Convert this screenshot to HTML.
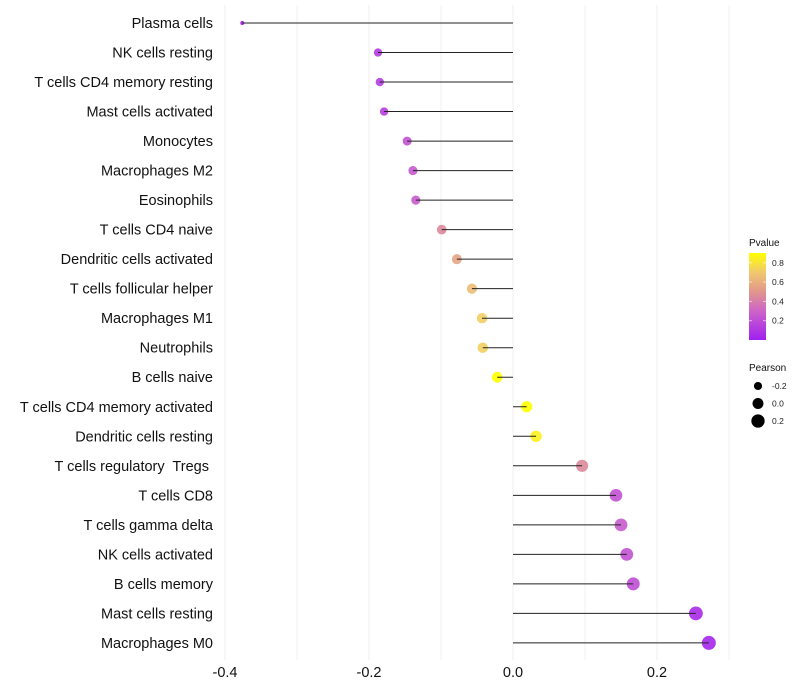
<!DOCTYPE html>
<html><head><meta charset="utf-8"><style>
body{margin:0;background:#fff;}
svg{display:block;font-family:"Liberation Sans",Arial,sans-serif;}
text{white-space:pre;}
</style></head><body>
<svg id="chart" width="800" height="700"></svg>
<script>
const categories=["Plasma cells","NK cells resting","T cells CD4 memory resting","Mast cells activated","Monocytes","Macrophages M2","Eosinophils","T cells CD4 naive","Dendritic cells activated","T cells follicular helper","Macrophages M1","Neutrophils","B cells naive","T cells CD4 memory activated","Dendritic cells resting","T cells regulatory  Tregs ","T cells CD8","T cells gamma delta","NK cells activated","B cells memory","Mast cells resting","Macrophages M0"];
const pearson=[-0.376,-0.1875,-0.185,-0.179,-0.147,-0.139,-0.135,-0.099,-0.078,-0.057,-0.043,-0.042,-0.022,0.019,0.032,0.096,0.143,0.15,0.158,0.167,0.254,0.272];
const pvalue=[0.0,0.12,0.13,0.14,0.22,0.25,0.26,0.45,0.55,0.66,0.72,0.73,0.9,0.9,0.85,0.45,0.22,0.26,0.22,0.2,0.05,0.03];
const xTicks=[-0.4,-0.2,0.0,0.2];
const xTickLabels=["-0.4","-0.2","0.0","0.2"];
const gridMinor=[-0.3,-0.1,0.1,0.3];
const cbTicks=[0.2,0.4,0.6,0.8];
const sizeLegend=[-0.2,0.0,0.2];

const NS="http://www.w3.org/2000/svg";
const svg=document.getElementById('chart');
const x=v=>513+v*720;
const y=i=>23+i*29.52;
const r=v=>Math.sqrt(Math.max(2,4+45*(v+0.38)/0.65));
function lerp(a,b,t){return a+(b-a)*t;}
const stops=[[0,[160,32,240]],[0.3,[205,100,200]],[0.5,[225,150,140]],[0.7,[240,200,110]],[0.9,[255,255,0]]];
function col(p){p=Math.max(0,Math.min(0.9,p));for(let k=0;k<stops.length-1;k++){const[a,ca]=stops[k],[b,cb]=stops[k+1];if(p<=b){const t=(p-a)/(b-a);return`rgb(${ca.map((c,j)=>Math.round(lerp(c,cb[j],t))).join(',')})`;}}return'rgb(255,255,0)';}
function el(tag,attrs,parent){const e=document.createElementNS(NS,tag);for(const k in attrs)e.setAttribute(k,attrs[k]);(parent||svg).appendChild(e);return e;}

xTicks.concat(gridMinor).forEach(v=>{
  const g=el('line',{x1:x(v),x2:x(v),y1:5,y2:660,stroke:'#efefef','stroke-width':xTicks.includes(v)?1:0.8});
  
  
});
categories.forEach((c,i)=>{
  const t=el('text',{x:213,y:y(i)+5,'text-anchor':'end','font-size':14.5,fill:'#111'});
  t.textContent=c;
  
  
  const p=el('circle',{cx:x(pearson[i]),cy:y(i),r:r(pearson[i]),fill:col(pvalue[i]),'fill-opacity':0.9});
  
  
  const l=el('line',{x1:x(0),x2:x(pearson[i]),y1:y(i),y2:y(i),stroke:'#222','stroke-width':1});
  
  
});
xTicks.forEach((v,i)=>{
  const t=el('text',{x:x(v),y:677,'text-anchor':'middle','font-size':14.5,fill:'#111'});
  t.textContent=xTickLabels[i];
  
  
});
const defs=el('defs',{});
const lg=el('linearGradient',{id:'cb',x1:0,y1:1,x2:0,y2:0},defs);
for(let k=0;k<=9;k++){el('stop',{offset:k/9,'stop-color':col(k*0.1)},lg);}
const ttl=el('text',{x:749,y:246,'font-size':10,fill:'#111'});ttl.textContent='Pvalue';


const cb=el('rect',{x:749,y:253,width:17,height:87,fill:'url(#cb)'});


const cby=p=>340-p*96.5;
cbTicks.forEach(p=>{
  el('line',{x1:749,x2:752,y1:cby(p),y2:cby(p),stroke:'#fff','stroke-opacity':0.6});
  el('line',{x1:763,x2:766,y1:cby(p),y2:cby(p),stroke:'#fff','stroke-opacity':0.6});
  const t=el('text',{x:772,y:cby(p)+3,'font-size':8.5,fill:'#222'});t.textContent=p.toFixed(1);
  
  
});
const st=el('text',{x:749,y:371,'font-size':10,fill:'#111'});st.textContent='Pearson';


sizeLegend.forEach((v,k)=>{
  const cy=386+k*17.5;
  const c=el('circle',{cx:758,cy:cy,r:r(v),fill:'#000'});
  
  
  const t=el('text',{x:772,y:cy+3,'font-size':8.5,fill:'#222'});t.textContent=v.toFixed(1);
  
  
});
</script>
</body></html>
